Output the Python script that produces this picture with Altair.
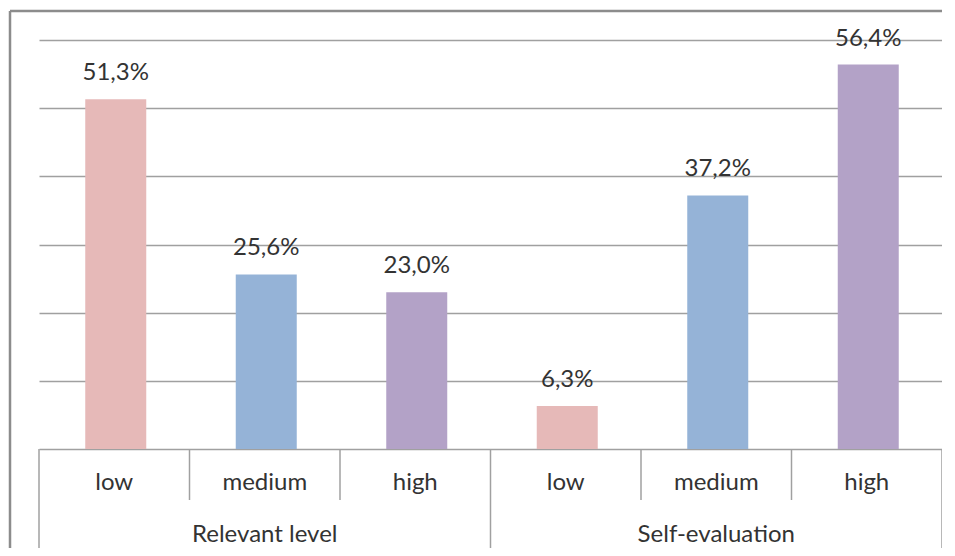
import altair as alt
import pandas as pd

groups = ["Relevant level", "Self-evaluation"]
levels = ["low", "medium", "high"]
values = [51.3, 25.6, 23.0, 6.3, 37.2, 56.4]
value_labels = ["51,3%", "25,6%", "23,0%", "6,3%", "37,2%", "56,4%"]
colors = ["#E6B9B8", "#95B3D7", "#B3A2C7"]
y_ticks = [0, 10, 20, 30, 40, 50, 60]

rows = []
for gi, g in enumerate(groups):
    for li, lv in enumerate(levels):
        i = gi * len(levels) + li
        rows.append(dict(idx=i, group=g, level=lv, value=values[i], label=value_labels[i]))
df = pd.DataFrame(rows)

n = len(df)
group_df = pd.DataFrame({
    "idx": [gi * len(levels) + (len(levels) - 1) / 2 for gi in range(len(groups))],
    "group": groups,
})
bounds = [i - 0.5 for i in range(n + 1)]
sep_df = pd.DataFrame({
    "pos": bounds,
    "long": [(i % len(levels) == 0) for i in range(n + 1)],
})

W, H = 903, 409
BOTTOM = 99
FONT = "Lato"
TXT = "#333333"

xs = alt.Scale(domain=[-0.5, n - 0.5], nice=False, zero=False, padding=0)
x = alt.X("idx:Q", scale=xs, axis=None)
y = alt.Y(
    "value:Q",
    scale=alt.Scale(domain=[0, 60], nice=False),
    axis=alt.Axis(values=y_ticks, grid=True, labels=False, ticks=False, domain=False,
                  title=None, gridColor="#A0A0A0", gridWidth=1.5),
)

bars = alt.Chart(df).mark_bar(size=61, xOffset=1.5).encode(
    x=x, y=y,
    color=alt.Color("level:N", scale=alt.Scale(domain=levels, range=colors), legend=None),
)

vlabels = alt.Chart(df).mark_text(baseline="alphabetic", dy=-19, dx=1.5, font=FONT, fontSize=24, color=TXT).encode(
    x=x, y=alt.Y("value:Q"), text="label:N"
)

cat_labels = alt.Chart(df).mark_text(baseline="alphabetic", font=FONT, fontSize=24, color=TXT).encode(
    x=x, y=alt.value(H + 41), text="level:N"
)

grp_labels = alt.Chart(group_df).mark_text(baseline="alphabetic", font=FONT, fontSize=24, color=TXT).encode(
    x=alt.X("idx:Q", scale=xs, axis=None), y=alt.value(H + 93), text="group:N"
)

short_sep = alt.Chart(sep_df).transform_filter("!datum.long").mark_rule(color="#A0A0A0", strokeWidth=1.5).encode(
    x=alt.X("pos:Q", scale=xs, axis=None), y=alt.value(H), y2=alt.value(H + 51)
)
long_sep = alt.Chart(sep_df).transform_filter("datum.long").mark_rule(color="#A0A0A0", strokeWidth=1.5).encode(
    x=alt.X("pos:Q", scale=xs, axis=None), y=alt.value(H), y2=alt.value(H + BOTTOM)
)

frame_df = pd.DataFrame({"k": [0]})
frame_top = alt.Chart(frame_df).mark_rule(color="#8C8C8C", strokeWidth=2.5).encode(
    x=alt.value(-29), x2=alt.value(W), y=alt.value(-29)
)
frame_left = alt.Chart(frame_df).mark_rule(color="#8C8C8C", strokeWidth=2.5).encode(
    x=alt.value(-29), y=alt.value(-29), y2=alt.value(H + BOTTOM)
)

chart = alt.layer(
    bars, vlabels, cat_labels, grp_labels, short_sep, long_sep, frame_top, frame_left
).properties(
    width=W, height=H,
    padding={"left": 31, "top": 32, "right": 0, "bottom": BOTTOM},
    autosize=alt.AutoSizeParams(type="none"),
    background="#FFFFFF",
).configure_view(stroke=None, strokeWidth=0)

chart.save("out.html", embed_options={"renderer": "svg", "actions": False})
